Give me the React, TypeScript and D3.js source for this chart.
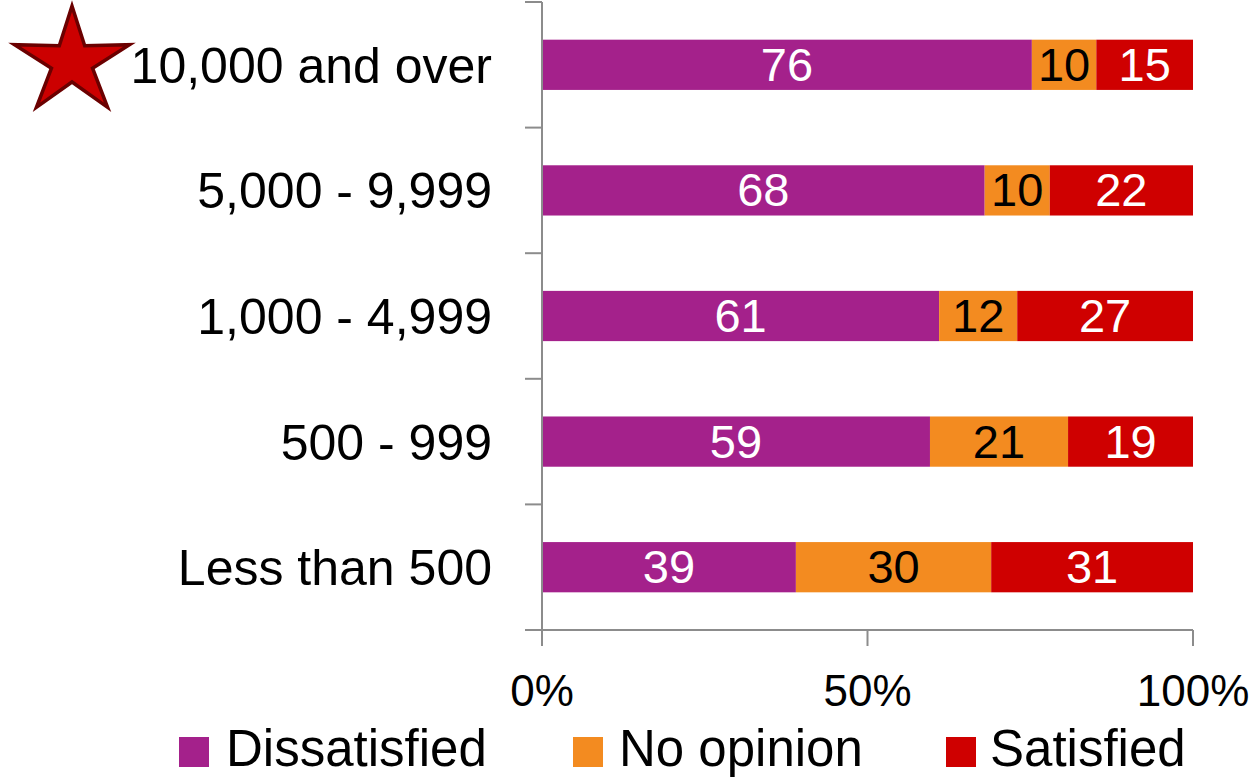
import React from "react";
import * as d3 from "d3";

const categories = ["10,000 and over", "5,000 - 9,999", "1,000 - 4,999", "500 - 999", "Less than 500"];
const seriesNames = ["Dissatisfied", "No opinion", "Satisfied"];
const dissatisfied = [76, 68, 61, 59, 39];
const noOpinion = [10, 10, 12, 21, 30];
const satisfied = [15, 22, 27, 19, 31];
const tickValues = [0, 0.5, 1];
const tickLabels = ["0%", "50%", "100%"];
const colors = ["#A4218B", "#F38B20", "#CF0000"];
const labelColors = ["#ffffff", "#000000", "#ffffff"];

const W = 1258;
const H = 777;
const FONT = "'Liberation Sans', Arial, sans-serif";
const AXIS = "#8C8C8C";

export default function App() {
  const x = d3.scaleLinear().domain([0, 1]).range([542, 1193]);
  const y = d3.scaleBand<string>().domain(categories).range([2, 630]).paddingInner(0.6).paddingOuter(0.3);

  const rows = categories.map((c, i) => {
    const vals = [dissatisfied[i], noOpinion[i], satisfied[i]];
    const total = d3.sum(vals);
    let acc = 0;
    return vals.map((v, j) => {
      const x0 = acc / total;
      acc += v;
      const x1 = acc / total;
      return { cat: c, series: j, value: v, x0, x1 };
    });
  });

  const step = y.step();
  const boundaries = d3.range(categories.length + 1).map((i) => 2 + i * step);

  // star
  const cx = 72, cy = 62, R = 56, r = 20;
  const starPts: [number, number][] = [];
  for (let k = 0; k < 10; k++) {
    const ang = -Math.PI / 2 + (k * Math.PI) / 5;
    const rad = k % 2 === 0 ? R : r;
    starPts.push([cx + rad * Math.cos(ang) * 1.08, cy + rad * Math.sin(ang)]);
  }
  const starPath = d3.line()(starPts) + "Z";

  const legendItems = [
    { name: seriesNames[0], sx: 179, tx: 226 },
    { name: seriesNames[1], sx: 573, tx: 619 },
    { name: seriesNames[2], sx: 946, tx: 990 },
  ];

  return (
    <svg
      width={W}
      height={H}
      style={{ position: "absolute", left: 0, top: 0, background: "#fff" }}
      fontFamily={FONT}
    >
      {/* bars */}
      {rows.map((segs, i) =>
        segs.map((s) => (
          <g key={`${i}-${s.series}`}>
            <rect
              x={x(s.x0)}
              y={y(s.cat)}
              width={x(s.x1) - x(s.x0)}
              height={y.bandwidth()}
              fill={colors[s.series]}
            />
            <text
              x={(x(s.x0) + x(s.x1)) / 2}
              y={(y(s.cat) as number) + y.bandwidth() / 2}
              dy="0.34em"
              textAnchor="middle"
              fontSize={47}
              fill={labelColors[s.series]}
            >
              {s.value}
            </text>
          </g>
        ))
      )}

      {/* vertical axis */}
      <line x1={542} x2={542} y1={2} y2={646} stroke={AXIS} strokeWidth={2} />
      {boundaries.map((b, i) => (
        <line key={`bt${i}`} x1={525} x2={542} y1={b} y2={b} stroke={AXIS} strokeWidth={2} />
      ))}
      {/* horizontal axis */}
      <line x1={525} x2={x(1)} y1={630} y2={630} stroke={AXIS} strokeWidth={2} />
      {tickValues.map((t, i) => (
        <g key={`xt${i}`}>
          <line x1={x(t)} x2={x(t)} y1={630} y2={646} stroke={AXIS} strokeWidth={2} />
          <text x={x(t)} y={706} textAnchor="middle" fontSize={44} fill="#000">
            {tickLabels[i]}
          </text>
        </g>
      ))}

      {/* category labels */}
      {categories.map((c) => (
        <text
          key={c}
          x={492}
          y={(y(c) as number) + y.bandwidth() / 2}
          dy="0.36em"
          textAnchor="end"
          fontSize={50}
          fill="#000"
        >
          {c}
        </text>
      ))}

      {/* star */}
      <path d={starPath} fill="#CC0000" stroke="#6B0000" strokeWidth={3.5} strokeLinejoin="miter" />

      {/* legend */}
      {legendItems.map((l, i) => (
        <g key={l.name}>
          <rect x={l.sx} y={737} width={30} height={30} fill={colors[i]} />
          <text x={l.tx} y={766} fontSize={51} fill="#000">
            {l.name}
          </text>
        </g>
      ))}
    </svg>
  );
}
